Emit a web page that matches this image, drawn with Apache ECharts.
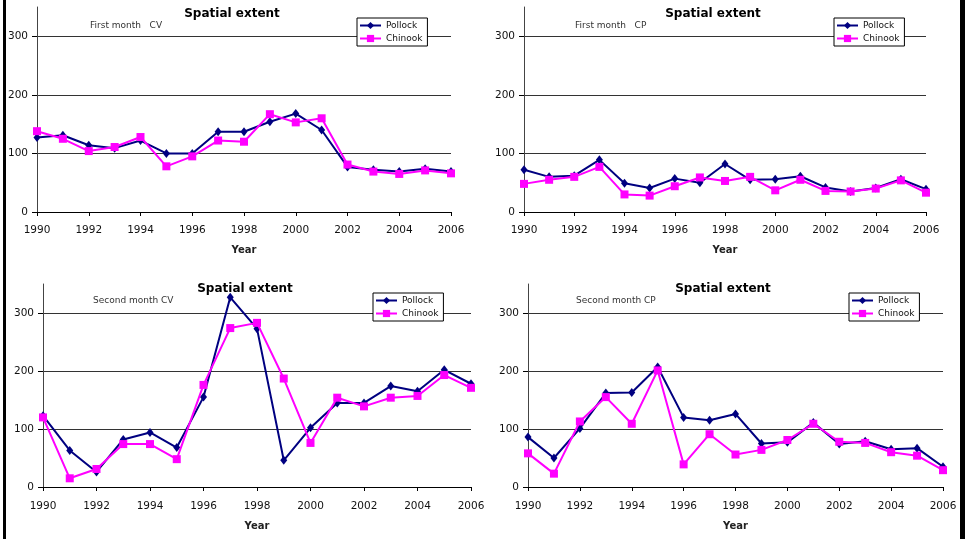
<!DOCTYPE html>
<html>
<head>
<meta charset="utf-8">
<script src="https://cdn.jsdelivr.net/npm/echarts@6/dist/echarts.min.js"></script>
<style>
  html, body { margin: 0; padding: 0; background: #fff; }
  #chart { width: 965px; height: 539px; }
</style>
</head>
<body>
<div id="chart"></div>
<script>
// data
const years = [1990, 1991, 1992, 1993, 1994, 1995, 1996, 1997, 1998, 1999, 2000, 2001, 2002, 2003, 2004, 2005, 2006];
const yTicks = [0, 100, 200, 300];
const seriesNames = ['Pollock', 'Chinook'];

const pollockFirstCV = [127, 131, 114, 109, 122, 100, 100, 137, 137, 154, 168, 140, 77, 72, 69, 74, 69];
const chinookFirstCV = [138, 125, 104, 111, 128, 78, 95, 122, 120, 167, 153, 160, 81, 69, 65, 71, 66];

const pollockFirstCP = [72, 60, 62, 89, 49, 41, 57, 50, 82, 55, 56, 61, 42, 35, 41, 56, 39];
const chinookFirstCP = [48, 55, 60, 77, 30, 28, 44, 59, 53, 60, 37, 55, 36, 35, 40, 54, 33];

const pollockSecondCV = [123, 63, 26, 82, 94, 68, 155, 327, 273, 46, 102, 145, 145, 174, 165, 202, 178];
const chinookSecondCV = [120, 15, 31, 74, 74, 48, 176, 274, 283, 187, 76, 154, 139, 154, 157, 193, 171];

const pollockSecondCP = [86, 50, 101, 162, 163, 207, 120, 115, 126, 75, 77, 111, 74, 79, 65, 67, 35];
const chinookSecondCP = [58, 23, 113, 155, 109, 201, 39, 91, 56, 64, 81, 109, 78, 76, 60, 54, 29];

const panels = [
  { title: 'Spatial extent', sub: 'First month   CV', pollock: pollockFirstCV, chinook: chinookFirstCV,
    grid: { left: 37, top: 7, width: 414, height: 205 }, titleX: 232, titleY: 14, subX: 90, subY: 26,
    legend: { left: 357, top: 18 }, labelMargin: 13, nameGap: 33 },
  { title: 'Spatial extent', sub: 'First month   CP', pollock: pollockFirstCP, chinook: chinookFirstCP,
    grid: { left: 524, top: 7, width: 402, height: 205 }, titleX: 713, titleY: 14, subX: 575, subY: 26,
    legend: { left: 834, top: 18 }, labelMargin: 13, nameGap: 33 },
  { title: 'Spatial extent', sub: 'Second month CV', pollock: pollockSecondCV, chinook: chinookSecondCV,
    grid: { left: 43, top: 284, width: 428, height: 203 }, titleX: 245, titleY: 289, subX: 93, subY: 301,
    legend: { left: 373, top: 293 }, labelMargin: 14, nameGap: 34 },
  { title: 'Spatial extent', sub: 'Second month CP', pollock: pollockSecondCP, chinook: chinookSecondCP,
    grid: { left: 528, top: 284, width: 415, height: 203 }, titleX: 723, titleY: 289, subX: 576, subY: 301,
    legend: { left: 849, top: 293 }, labelMargin: 14, nameGap: 34 }
];

const FONT = '"DejaVu Sans", Verdana, sans-serif';
const toPairs = (vals) => years.map((y, i) => [y, vals[i]]);

const chart = echarts.init(document.getElementById('chart'));

const grid = [], xAxis = [], yAxis = [], series = [], legend = [], graphic = [];

panels.forEach((p, i) => {
  grid.push(Object.assign({ containLabel: false }, p.grid));

  xAxis.push({
    type: 'value', gridIndex: i, min: 1990, max: 2006, interval: 2,
    name: 'Year', nameLocation: 'middle', nameGap: p.nameGap,
    nameTextStyle: { fontFamily: FONT, fontSize: 10, fontWeight: 'bold', color: '#222' },
    axisLine: { onZero: false, lineStyle: { color: '#000', width: 1 } },
    axisTick: { show: true, inside: false, length: 4, lineStyle: { color: '#000' } },
    axisLabel: { fontFamily: FONT, fontSize: 10.5, color: '#111', margin: p.labelMargin,
      formatter: (v) => String(v) },
    splitLine: { show: false }
  });

  yAxis.push({
    type: 'value', gridIndex: i, min: 0, max: 350, interval: 100,
    axisLine: { show: true, lineStyle: { color: '#444', width: 1 } },
    axisTick: { show: true, length: 5, customValues: yTicks, lineStyle: { color: '#000' } },
    axisLabel: { fontFamily: FONT, fontSize: 10.5, color: '#111', margin: 9, customValues: yTicks },
    splitLine: { show: true, showMinLine: false, lineStyle: { color: '#333', width: 1 } }
  });

  series.push({
    name: 'Pollock', type: 'line', xAxisIndex: i, yAxisIndex: i,
    data: toPairs(p.pollock),
    symbol: 'diamond', symbolSize: [7, 9],
    lineStyle: { color: '#000080', width: 2 },
    itemStyle: { color: '#000080' },
    animation: false, z: 3
  });
  series.push({
    name: 'Chinook', type: 'line', xAxisIndex: i, yAxisIndex: i,
    data: toPairs(p.chinook),
    symbol: 'rect', symbolSize: 8,
    lineStyle: { color: '#ff00ff', width: 2 },
    itemStyle: { color: '#ff00ff' },
    animation: false, z: 4
  });

  legend.push({
    data: seriesNames, orient: 'vertical', left: p.legend.left, top: p.legend.top,
    backgroundColor: '#fff', borderColor: '#000', borderWidth: 1, borderRadius: 0,
    padding: [3, 5, 3, 2], itemGap: 4, itemWidth: 21, itemHeight: 9,
    textStyle: { fontFamily: FONT, fontSize: 9, color: '#111' },
    selectedMode: false, z: 10
  });

  graphic.push({
    type: 'text', x: p.titleX, y: p.titleY, z: 20,
    style: { text: p.title, font: 'bold 12px ' + FONT, fill: '#000', align: 'center', verticalAlign: 'middle' }
  });
  graphic.push({
    type: 'text', x: p.subX, y: p.subY, z: 20,
    style: { text: p.sub, font: '9px ' + FONT, fill: '#333', align: 'left', verticalAlign: 'middle' }
  });
});

// black frame edges on the left and right
graphic.push({ type: 'rect', shape: { x: 3, y: 0, width: 3, height: 539 }, style: { fill: '#000' }, z: 30 });
graphic.push({ type: 'rect', shape: { x: 960, y: 0, width: 5, height: 539 }, style: { fill: '#000' }, z: 30 });

chart.setOption({
  animation: false,
  backgroundColor: '#fff',
  grid: grid,
  xAxis: xAxis,
  yAxis: yAxis,
  legend: legend,
  series: series,
  graphic: graphic
});
</script>
</body>
</html>
